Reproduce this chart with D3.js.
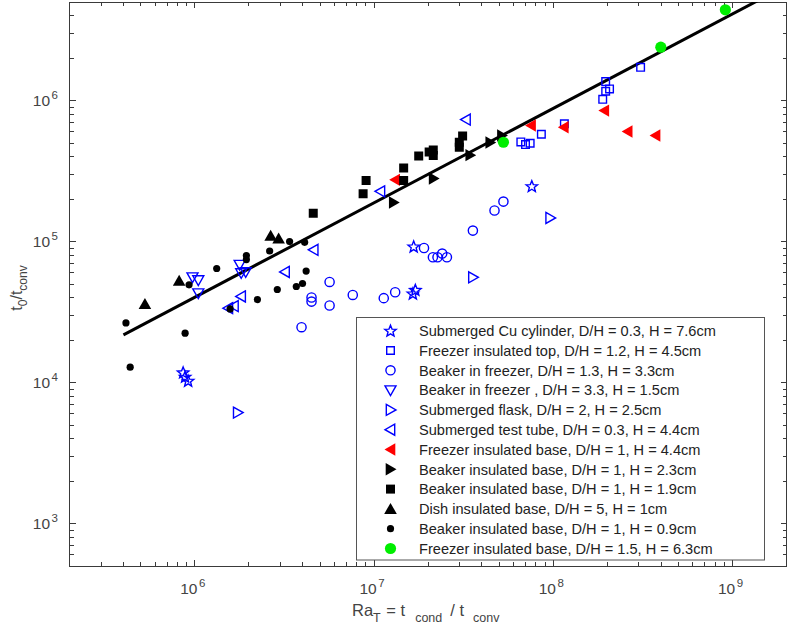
<!DOCTYPE html>
<html><head><meta charset="utf-8">
<script src="https://cdn.jsdelivr.net/npm/d3@7"></script>
<style>
body{margin:0;background:#fff}
svg{display:block}
text{font-family:"Liberation Sans",Arial,Helvetica,sans-serif}
</style>
</head><body><svg id="c" width="787" height="628"></svg>
<script>
// ---------- data ----------
const legendLabels = [
  "Submerged Cu cylinder, D/H = 0.3, H = 7.6cm",
  "Freezer insulated top, D/H = 1.2, H = 4.5cm",
  "Beaker in freezer, D/H = 1.3, H = 3.3cm",
  "Beaker in freezer , D/H = 3.3, H = 1.5cm",
  "Submerged flask, D/H = 2, H = 2.5cm",
  "Submerged test tube, D/H = 0.3, H = 4.4cm",
  "Freezer insulated base, D/H = 1, H = 4.4cm",
  "Beaker insulated base, D/H = 1, H = 2.3cm",
  "Beaker insulated base, D/H = 1, H = 1.9cm",
  "Dish insulated base, D/H = 5, H = 1cm",
  "Beaker insulated base, D/H = 1, H = 0.9cm",
  "Freezer insulated base, D/H = 1.5, H = 6.3cm"
];

const cuX = [8.61e5, 8.83e5, 9.18e5, 1.664e7, 1.70e7, 1.647e7, 7.59e7];
const cuY = [1.18e4, 1.10e4, 1.03e4, 9.22e4, 4.54e4, 4.28e4, 2.47e5];

const topX = [6.59e7, 7.0e7, 7.43e7, 8.58e7, 1.153e8, 1.887e8, 1.96e8, 2.06e8, 1.96e8, 3.07e8];
const topY = [5.09e5, 4.87e5, 4.98e5, 5.77e5, 6.84e5, 1.021e6, 1.164e6, 1.21e6, 1.364e6, 1.72e6];

const bf13X = [3.94e6, 4.48e6, 4.48e6, 5.65e6, 5.65e6, 7.61e6, 1.133e7, 1.312e7, 1.90e7, 2.13e7, 2.26e7, 2.40e7, 2.55e7, 3.56e7, 4.70e7, 5.27e7];
const bf13Y = [2.47e4, 4.01e4, 3.75e4, 5.17e4, 3.52e4, 4.18e4, 3.97e4, 4.37e4, 9.0e4, 7.74e4, 7.74e4, 8.22e4, 7.74e4, 1.196e5, 1.66e5, 1.92e5];

const bf33X = [9.71e5, 1.046e6, 1.046e6, 1.78e6, 1.815e6, 1.923e6];
const bf33Y = [5.60e4, 5.34e4, 4.31e4, 6.87e4, 5.99e4, 6.09e4];

const flaskX = [1.735e6, 3.56e7, 9.60e7];
const flaskY = [6.12e3, 5.58e4, 1.47e5];

const tubeX = [3.26e7, 1.086e7, 4.61e6, 3.19e6, 1.815e6, 1.655e6, 1.54e6];
const tubeY = [7.33e5, 2.27e5, 8.74e4, 6.09e4, 4.08e4, 3.49e4, 3.37e4];

const fb44X = [1.312e7, 7.52e7, 1.145e8, 1.927e8, 2.60e8, 3.72e8];
const fb44Y = [2.74e5, 6.65e5, 6.47e5, 8.49e5, 6.03e5, 5.65e5];

const bb23X = [1.288e7, 2.15e7, 3.44e7, 4.45e7, 5.17e7];
const bb23Y = [1.89e5, 2.80e5, 4.10e5, 5.04e5, 5.65e5];

const bb19X = [4.58e6, 8.69e6, 9.03e6, 1.463e7, 1.463e7, 1.775e7, 2.03e7, 2.14e7, 2.14e7, 2.99e7, 2.99e7, 3.12e7];
const bb19Y = [1.59e5, 2.18e5, 2.71e5, 3.33e5, 2.71e5, 4.05e5, 4.32e5, 4.46e5, 4.07e5, 5.06e5, 4.67e5, 5.61e5];

const dishX = [5.27e5, 8.18e5, 2.65e6, 2.936e6];
const dishY = [3.60e4, 5.28e4, 1.10e5, 1.05e5];

const bb09X = [4.13e5, 4.36e5, 8.83e5, 9.29e5, 1.325e6, 1.573e6, 1.94e6, 1.94e6, 2.235e6, 2.616e6, 2.886e6, 3.38e6, 3.684e6, 3.99e6, 4.10e6, 4.18e6];
const bb09Y = [2.65e4, 1.285e4, 2.24e4, 4.93e4, 6.44e4, 3.33e4, 7.96e4, 7.45e4, 3.88e4, 8.57e4, 4.57e4, 1.0e5, 4.80e4, 5.04e4, 9.88e4, 6.18e4];

const fb15X = [5.27e7, 3.98e8, 9.12e8];
const fb15Y = [5.06e5, 2.39e6, 4.40e6];

const fitX = [4.0e5, 1.5e9];
const fitY = [2.18e4, 5.4e6];

const xTickExps = [6, 7, 8, 9];
const yTickExps = [3, 4, 5, 6];

// ---------- setup ----------
const svg = d3.select("#c");
const L = 69.5, R = 786.5, T = 2, B = 566;
const x = d3.scaleLog().domain([2e5, 2e9]).range([L, R]);
const y = d3.scaleLog().domain([500, 5e6]).range([B, T]);
const axisCol = "#3a3a3a", textCol = "#444";

const BLUE = "#0000ff", RED = "#ff0000", GREEN = "#00ee00", BLACK = "#000";

const series = [
  {xs: cuX,   ys: cuY,   shape: "star",  fill: false, color: BLUE},
  {xs: topX,  ys: topY,  shape: "square", fill: false, color: BLUE},
  {xs: bf13X, ys: bf13Y, shape: "circle", fill: false, color: BLUE},
  {xs: bf33X, ys: bf33Y, shape: "tdown", fill: false, color: BLUE},
  {xs: flaskX,ys: flaskY,shape: "tright",fill: false, color: BLUE},
  {xs: tubeX, ys: tubeY, shape: "tleft", fill: false, color: BLUE},
  {xs: fb44X, ys: fb44Y, shape: "tleftF", fill: true, color: RED},
  {xs: bb23X, ys: bb23Y, shape: "trightF", fill: true, color: BLACK},
  {xs: bb19X, ys: bb19Y, shape: "squareF", fill: true, color: BLACK},
  {xs: dishX, ys: dishY, shape: "tupF",   fill: true, color: BLACK},
  {xs: bb09X, ys: bb09Y, shape: "dot",    fill: true, color: BLACK},
  {xs: fb15X, ys: fb15Y, shape: "dotBig", fill: true, color: GREEN}
];

function shapePath(shape) {
  switch (shape) {
    case "star": {
      const Ro = 6, Ri = 2.6; let p = [];
      for (let i = 0; i < 10; i++) {
        const r = i % 2 ? Ri : Ro;
        const a = -Math.PI / 2 + i * Math.PI / 5;
        p.push([r * Math.cos(a), r * Math.sin(a) + 0.5]);
      }
      return "M" + p.map(q => q.join(",")).join("L") + "Z";
    }
    case "square": return "M-3.8,-3.8H3.8V3.8H-3.8Z";
    case "squareF": return "M-4.5,-4.5H4.5V4.5H-4.5Z";
    case "tdown": return "M-5.5,-4.2L5.5,-4.2L0,5.5Z";
    case "tright": return "M-4.2,-5.5L5.5,0L-4.2,5.5Z";
    case "tleft": return "M4.2,-5.5L-5.5,0L4.2,5.5Z";
    case "tleftF": return "M4.8,-6.2L-6,0L4.8,6.2Z";
    case "trightF": return "M-4.8,-6.2L6,0L-4.8,6.2Z";
    case "tupF": return "M0,-6L6.3,5L-6.3,5Z";
  }
  return null;
}

function drawMarker(g, s, cx, cy) {
  if (s.shape === "circle") {
    g.append("circle").attr("cx", cx).attr("cy", cy).attr("r", 4.6)
      .attr("fill", "none").attr("stroke", s.color).attr("stroke-width", 1.4);
  } else if (s.shape === "dot") {
    g.append("circle").attr("cx", cx).attr("cy", cy).attr("r", 3.6).attr("fill", s.color);
  } else if (s.shape === "dotBig") {
    g.append("circle").attr("cx", cx).attr("cy", cy).attr("r", 5.6).attr("fill", s.color);
  } else {
    const p = g.append("path").attr("d", shapePath(s.shape))
      .attr("transform", `translate(${cx},${cy})`);
    if (s.fill) p.attr("fill", s.color).attr("stroke", "none");
    else p.attr("fill", "none").attr("stroke", s.color).attr("stroke-width", 1.4)
          .attr("stroke-linejoin", "miter");
  }
}

// clip
svg.append("defs").append("clipPath").attr("id", "pc")
  .append("rect").attr("x", L).attr("y", T).attr("width", R - L).attr("height", B - T);

// ---------- axes (box with inward ticks) ----------
const ax = svg.append("g");
const xMajor = xTickExps.map(e => Math.pow(10, e));
const yMajor = yTickExps.map(e => Math.pow(10, e));
const xMinor = [], yMinor = [];
for (let e = 5; e <= 9; e++) for (let m = 2; m <= 9; m++) {
  const v = m * Math.pow(10, e);
  if (v >= 2e5 && v <= 2e9) xMinor.push(v);
}
for (let e = 2; e <= 6; e++) for (let m = 2; m <= 9; m++) {
  const v = m * Math.pow(10, e);
  if (v >= 500 && v <= 5e6) yMinor.push(v);
}

function tickLines(vals, len) {
  vals.forEach(v => {
    const px = x(v);
    ax.append("line").attr("x1", px).attr("x2", px).attr("y1", B).attr("y2", B - len);
    ax.append("line").attr("x1", px).attr("x2", px).attr("y1", T).attr("y2", T + len);
  });
}
function tickLinesY(vals, len) {
  vals.forEach(v => {
    const py = y(v);
    ax.append("line").attr("y1", py).attr("y2", py).attr("x1", L).attr("x2", L + len);
    ax.append("line").attr("y1", py).attr("y2", py).attr("x1", R).attr("x2", R - len);
  });
}
tickLines(xMajor, 6); tickLines(xMinor, 4);
tickLinesY(yMajor, 6); tickLinesY(yMinor, 4);
ax.append("rect").attr("x", L).attr("y", T).attr("width", R - L).attr("height", B - T)
  .attr("fill", "none");
ax.selectAll("line,rect").attr("stroke", axisCol).attr("stroke-width", 1)
  .attr("shape-rendering", "crispEdges");

// tick labels
xTickExps.forEach(e => {
  const t = svg.append("text").attr("x", x(Math.pow(10, e)) - 2).attr("y", 594)
    .attr("text-anchor", "middle").attr("fill", textCol).attr("font-size", 15.5);
  t.append("tspan").text("10");
  t.append("tspan").attr("dy", -7).attr("dx", 1.5).attr("font-size", 11.5).text(String(e));
});
yTickExps.forEach(e => {
  const t = svg.append("text").attr("x", 58).attr("y", y(Math.pow(10, e)) + 5.5)
    .attr("text-anchor", "end").attr("fill", textCol).attr("font-size", 15.5);
  t.append("tspan").text("10");
  t.append("tspan").attr("dy", -7).attr("dx", 1.5).attr("font-size", 11.5).text(String(e));
});

// axis titles
{
  const t = svg.append("text").attr("x", 352).attr("y", 616)
    .attr("text-anchor", "start").attr("fill", textCol).attr("font-size", 16.5);
  t.append("tspan").text("Ra");
  t.append("tspan").attr("dy", 6).attr("font-size", 12.5).text("T");
  t.append("tspan").attr("dy", -6).attr("dx", 1).text(" = t");
  t.append("tspan").attr("dy", 6).attr("dx", 10).attr("font-size", 12.5).text("cond");
  t.append("tspan").attr("dy", -6).attr("dx", 8).text("/ t");
  t.append("tspan").attr("dy", 6).attr("dx", 9).attr("font-size", 12.5).text("conv");
}
{
  const t = svg.append("text").attr("transform", `translate(22,${(T + B) / 2 + 4}) rotate(-90)`)
    .attr("text-anchor", "middle").attr("fill", textCol).attr("font-size", 16);
  t.append("tspan").text("t");
  t.append("tspan").attr("dy", 5).attr("font-size", 12).text("0");
  t.append("tspan").attr("dy", -5).text("/t");
  t.append("tspan").attr("dy", 5).attr("font-size", 12).text("conv");
}

// ---------- plot ----------
const plot = svg.append("g").attr("clip-path", "url(#pc)");
const line = d3.line().x(d => x(d[0])).y(d => y(d[1]));
plot.append("path").datum(d3.zip(fitX, fitY)).attr("d", line)
  .attr("fill", "none").attr("stroke", "#000").attr("stroke-width", 3);

series.forEach(s => {
  const g = plot.append("g");
  s.xs.forEach((xv, i) => drawMarker(g, s, x(xv), y(s.ys[i])));
});

// ---------- legend ----------
const lg = svg.append("g");
lg.append("rect").attr("x", 356.5).attr("y", 317.5).attr("width", 408).attr("height", 242.5)
  .attr("fill", "#fff").attr("stroke", "#555").attr("stroke-width", 1);
legendLabels.forEach((lab, i) => {
  const cy = 330.7 + i * 19.8;
  drawMarker(lg, series[i], 390.5, cy);
  lg.append("text").attr("x", 419).attr("y", cy + 5.3).attr("fill", "#222")
    .attr("font-size", 14.6).text(lab);
});
</script></body></html>
